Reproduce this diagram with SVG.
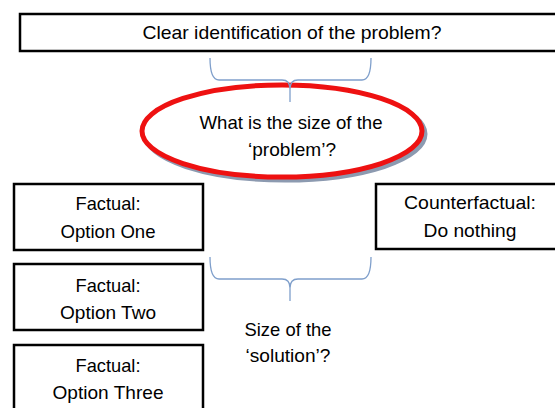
<svg xmlns="http://www.w3.org/2000/svg" width="555" height="408" viewBox="0 0 555 408">
<style>
  .box { fill: #ffffff; stroke: #000000; stroke-width: 2.5; }
  .t { font-family: "Liberation Sans", Arial, sans-serif; font-size: 19px; fill: #000000; text-anchor: middle; }
  .brace { fill: none; stroke: #7f9fcb; stroke-width: 1.3; }
</style>
<rect width="555" height="408" fill="#ffffff"/>
<g id="node-problem">
  <rect class="box" x="20" y="14" width="560" height="37"/>
  <text class="t" x="292" y="39" textLength="299" lengthAdjust="spacingAndGlyphs">Clear identification of the problem?</text>
</g>
<g id="node-size">
  <ellipse cx="285" cy="134" rx="140" ry="46" fill="none" stroke="#8c9ab0" stroke-width="5"/>
  <ellipse cx="282" cy="131" rx="140" ry="46" fill="#ffffff" stroke="#ee1111" stroke-width="5"/>
  <text class="t" x="291" y="129" textLength="183" lengthAdjust="spacingAndGlyphs">What is the size of the</text>
  <text class="t" x="292" y="156" textLength="88" lengthAdjust="spacingAndGlyphs">‘problem’?</text>
</g>
<g id="connectors">
  <path class="brace" d="M210,58 Q210,80 219,80 L282,80 Q290,80 290,89 L290,102 M290,89 Q290,80 298,80 L362,80 Q371,80 371,58"/>
  <path class="brace" d="M210,257 Q210,279 219,279 L282,279 Q290,279 290,288 L290,301 M290,288 Q290,279 298,279 L362,279 Q371,279 371,257"/>
</g>
<g id="node-option-one">
  <rect class="box" x="14" y="184" width="189" height="66"/>
  <text class="t" x="108" y="210" textLength="65" lengthAdjust="spacingAndGlyphs">Factual:</text>
  <text class="t" x="108" y="238" textLength="95" lengthAdjust="spacingAndGlyphs">Option One</text>
</g>
<g id="node-counterfactual">
  <rect class="box" x="376" y="184" width="190" height="65"/>
  <text class="t" x="470" y="209" textLength="132" lengthAdjust="spacingAndGlyphs">Counterfactual:</text>
  <text class="t" x="470" y="237" textLength="93" lengthAdjust="spacingAndGlyphs">Do nothing</text>
</g>
<g id="node-option-two">
  <rect class="box" x="14" y="264" width="189" height="66"/>
  <text class="t" x="108" y="292" textLength="65" lengthAdjust="spacingAndGlyphs">Factual:</text>
  <text class="t" x="108" y="319" textLength="96" lengthAdjust="spacingAndGlyphs">Option Two</text>
</g>
<g id="node-option-three">
  <rect class="box" x="14" y="345" width="189" height="70"/>
  <text class="t" x="108" y="372" textLength="65" lengthAdjust="spacingAndGlyphs">Factual:</text>
  <text class="t" x="108" y="399" textLength="111" lengthAdjust="spacingAndGlyphs">Option Three</text>
</g>
<g id="label-solution">
  <text class="t" x="288" y="336" textLength="87" lengthAdjust="spacingAndGlyphs">Size of the</text>
  <text class="t" x="288" y="362" textLength="85" lengthAdjust="spacingAndGlyphs">‘solution’?</text>
</g>
</svg>
